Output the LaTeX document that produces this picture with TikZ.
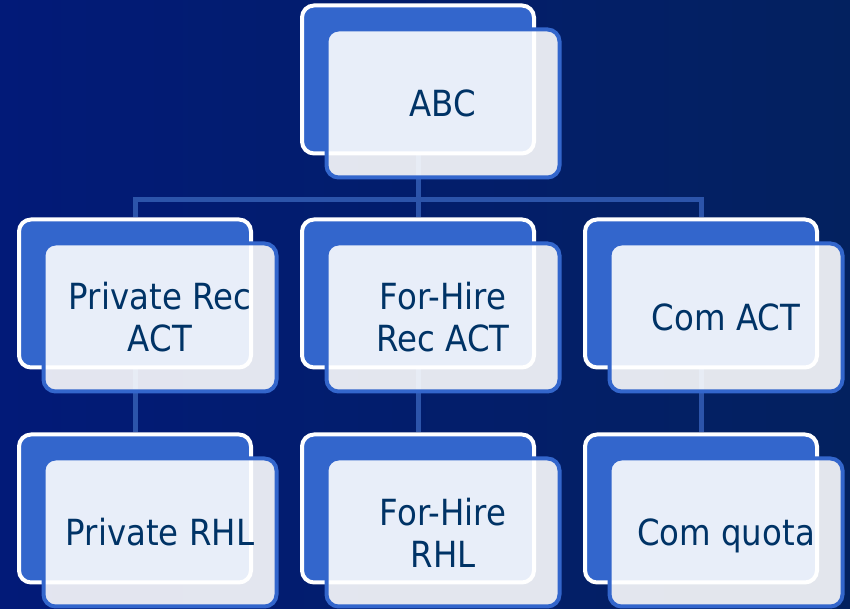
\documentclass[tikz,border=0pt]{standalone}
\usepackage{fontspec}
\setmainfont[FakeStretch=0.9]{DejaVu Sans}
\pgfdeclarelayer{bg}
\pgfdeclarelayer{wires}
\pgfsetlayers{bg,wires,main}
\definecolor{bgleft}{RGB}{2,26,120}
\definecolor{bgright}{RGB}{3,33,95}
\definecolor{boxblue}{RGB}{51,102,204}
\definecolor{wireblue}{RGB}{44,84,170}
\definecolor{textnavy}{RGB}{0,51,102}
\tikzset{
  backbox/.style={draw=white, fill=boxblue, line width=4pt, rounded corners=12pt,
    minimum width=232pt, minimum height=148pt, inner sep=0pt},
  frontbox/.style={draw=boxblue, fill=white, fill opacity=0.89, text opacity=1,
    line width=4pt, rounded corners=12pt, minimum width=233pt, minimum height=148pt,
    inner sep=0pt, align=center, text=textnavy, font=\fontsize{36}{42}\selectfont},
  wire/.style={draw=wireblue, line width=5pt},
}
\begin{document}
\begin{tikzpicture}[scale=1.000000,x=1pt,y=1pt]
\useasboundingbox (0.000000, 0.000000) rectangle (850.000000, 609.000000);
% Drawing background
\begin{pgfonlayer}{bg}
\shade[left color=bgleft, right color=bgright] (0.000000, 0.000000) rectangle (850.000000, 609.000000);
\end{pgfonlayer}
% Row 1: ABC
\node[backbox] (abcback) at (418.000000, 529.500000) {};
\node[frontbox] (abcfront) at (443.000000, 505.500000) {ABC};
% Row 2: Private Rec ACT, For-Hire Rec ACT, Com ACT
\node[backbox] (privactback) at (135.000000, 315.500000) {};
\node[frontbox] (privactfront) at (160.000000, 291.500000) {Private Rec\\ACT};
\node[backbox] (hireactback) at (418.000000, 315.500000) {};
\node[frontbox] (hireactfront) at (443.000000, 291.500000) {For-Hire\\Rec ACT};
\node[backbox] (comactback) at (701.000000, 315.500000) {};
\node[frontbox] (comactfront) at (726.000000, 291.500000) {Com ACT};
% Row 3: Private RHL, For-Hire RHL, Com quota
\node[backbox] (privrhlback) at (135.000000, 100.500000) {};
\node[frontbox] (privrhlfront) at (160.000000, 76.500000) {Private RHL};
\node[backbox] (hirerhlback) at (418.000000, 100.500000) {};
\node[frontbox] (hirerhlfront) at (443.000000, 76.500000) {For-Hire\\RHL};
\node[backbox] (comquotaback) at (701.000000, 100.500000) {};
\node[frontbox, text depth=0pt] (comquotafront) at (726.000000, 76.500000) {Com quota};
% Done with boxes; drawing wires
\begin{pgfonlayer}{wires}
\coordinate (bus) at (418.000000, 409.000000);
\draw[wire] (abcback.south) -- (bus);
\draw[wire] (bus) -| (privactback.north);
\draw[wire] (bus) -- (hireactback.north);
\draw[wire] (bus) -| (comactback.north);
\draw[wire] (privactback.south) -- (privrhlback.north);
\draw[wire] (hireactback.south) -- (hirerhlback.north);
\draw[wire] (comactback.south) -- (comquotaback.north);
\end{pgfonlayer}
% Done with wires
\end{tikzpicture}
\end{document}
